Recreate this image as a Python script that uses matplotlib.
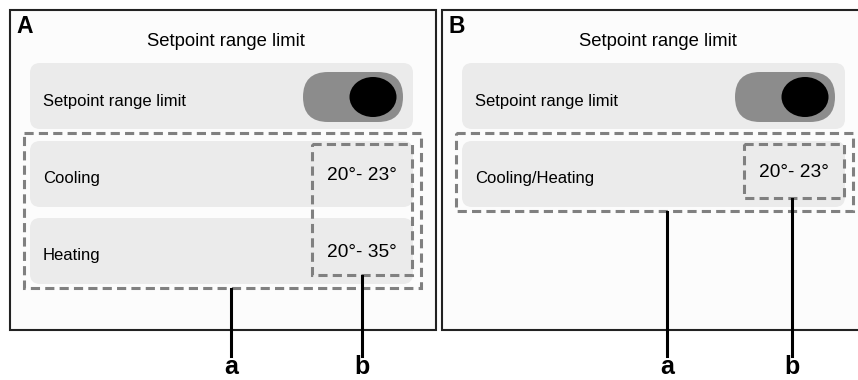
import matplotlib.pyplot as plt
from matplotlib.patches import FancyBboxPatch, Rectangle, Ellipse

# Content of the two screens
panel_names = ["A", "B"]
screen_title = "Setpoint range limit"
toggle_label = "Setpoint range limit"
rows_A = ["Cooling", "Heating"]
ranges_A = ["20°- 23°", "20°- 35°"]
rows_B = ["Cooling/Heating"]
ranges_B = ["20°- 23°"]
callouts = ["a", "b"]

W, H = 858, 380
fig = plt.figure(figsize=(W / 100, H / 100), dpi=100)
ax = fig.add_axes([0, 0, 1, 1])
ax.set_xlim(0, W)
ax.set_ylim(H, 0)
ax.axis("off")

FONT = "Liberation Sans"
ROW = "#ebebeb"
DASH = "#808080"


def rbox(x0, y0, x1, y1, color, r=10):
    ax.add_patch(FancyBboxPatch((x0 + r, y0 + r), x1 - x0 - 2 * r, y1 - y0 - 2 * r,
                                boxstyle="round,pad=%d" % r, fc=color, ec="none", lw=0))


def dbox(x0, y0, x1, y1):
    ax.add_patch(Rectangle((x0, y0), x1 - x0, y1 - y0, fill=False, ec=DASH,
                           lw=2.2, ls=(0, (3, 1.7))))


def panel(left, right, name, rows, ranges, callout_x, range_dy):
    # frame (panel B runs off the right edge)
    ax.add_patch(Rectangle((left, 10), right - left, 320, fc="#fcfcfc",
                           ec="#222222", lw=1.5))
    ax.text(left + 6, 33, name, fontsize=16.5, fontweight="bold",
            family=FONT, va="baseline", ha="left")
    ax.text((left + right) / 2 + 3, 46, screen_title, fontsize=13.3, family=FONT,
            va="baseline", ha="center")

    # toggle row
    rbox(left + 20, 63, right - 23, 129, ROW)
    ax.text(left + 33, 106, toggle_label, fontsize=12, family=FONT, va="baseline")
    rbox(right - 133, 72, right - 33, 122, "#8c8c8c", r=25)
    ax.add_patch(Ellipse((right - 63, 97), 47, 40, fc="black", ec="none"))

    # range rows
    row_h = 66
    gap = 11
    y = 141
    for lab, rng in zip(rows, ranges):
        rbox(left + 20, y, right - 23, y + row_h, ROW)
        ax.text(left + 33, y + 42, lab, fontsize=12, family=FONT, va="baseline")
        ax.text(right - 39, y + range_dy, rng, fontsize=13.8, family=FONT,
                va="baseline", ha="right")
        y += row_h + gap
    bottom = y - gap

    # dashed callout boxes
    dbox(left + 14, 133, right - 15, bottom + 4)
    dbox(right - 124, 144, right - 24, bottom - 9)

    # leader lines and letters
    ax.plot([callout_x[0], callout_x[0]], [bottom + 5, 356], color="black", lw=2.2)
    ax.plot([callout_x[1], callout_x[1]], [bottom - 8, 356], color="black", lw=2.2)
    for cx, c in zip(callout_x, callouts):
        ax.text(cx, 379, c, fontsize=18, fontweight="bold", family=FONT,
                ha="center", va="bottom")


panel(10, 436, panel_names[0], rows_A, ranges_A, [231, 362], 39)
panel(442, 868, panel_names[1], rows_B, ranges_B, [667, 792], 36)

fig.savefig("out.png", dpi=100, facecolor="white")
